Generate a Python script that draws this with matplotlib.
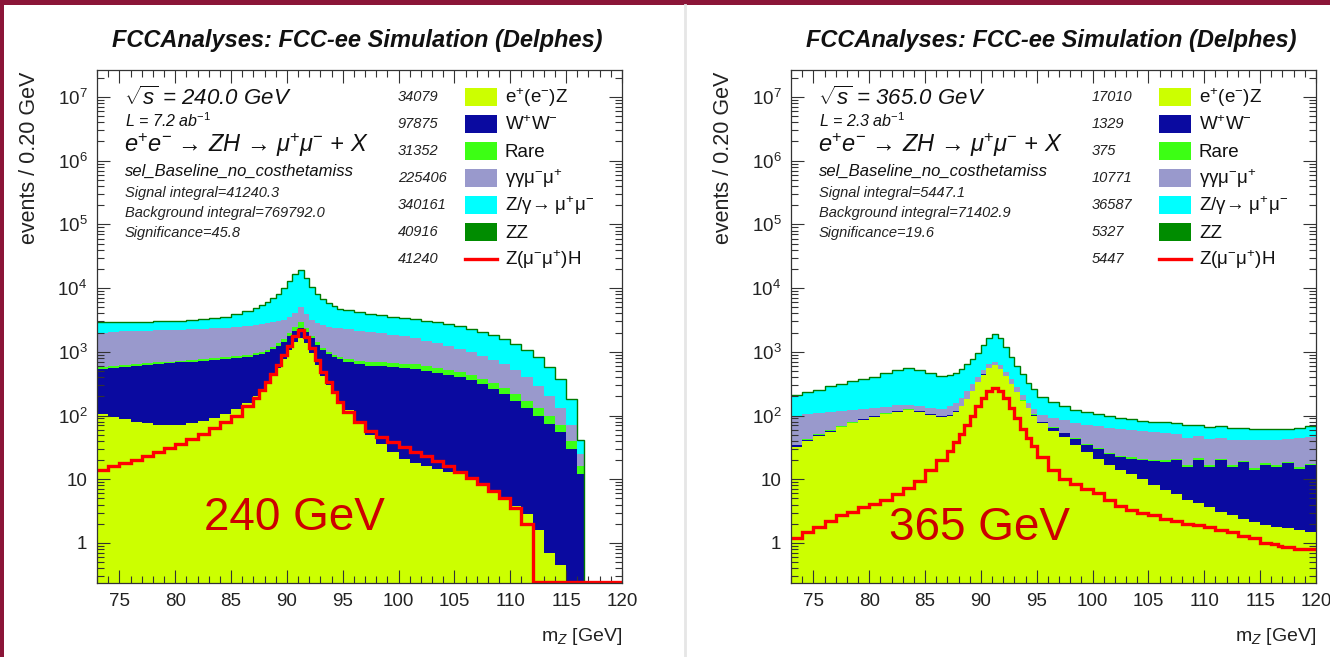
import numpy as np
import matplotlib
matplotlib.use("Agg")
import matplotlib.pyplot as plt
from matplotlib.patches import Rectangle
from matplotlib.lines import Line2D
from matplotlib.ticker import FixedLocator, FixedFormatter, MultipleLocator, LogLocator, NullFormatter

plt.rcParams['font.family'] = ['Liberation Sans', 'DejaVu Sans']
plt.rcParams['mathtext.fontset'] = 'custom'
plt.rcParams['mathtext.rm'] = 'Liberation Sans'
plt.rcParams['mathtext.it'] = 'Liberation Sans:italic'
plt.rcParams['mathtext.bf'] = 'Liberation Sans:bold'

# ---------------- data ----------------
bin_edges = [73, 74, 75, 76, 77, 78, 79, 80, 81, 82, 83, 84, 85, 86, 87,
             87.5, 88, 88.5, 89, 89.5, 90, 90.5, 91, 91.5, 92, 92.5, 93, 93.5, 94, 94.5, 95,
             96, 97, 98, 99, 100, 101, 102, 103, 104, 105, 106, 107, 108, 109, 110, 111, 112,
             113, 114, 115, 116, 116.6, 117, 118, 119, 120]

process_names = ["e$^{+}$(e$^{-}$)Z", "W$^{+}$W$^{-}$", "Rare", "γγμ$^{-}$μ$^{+}$",
                 "Z/γ→ μ$^{+}$μ$^{-}$", "ZZ"]
signal_name = "Z(μ$^{-}$μ$^{+}$)H"
process_colors = ["#ccff00", "#0a0aa0", "#3cff14", "#9999cc", "#00ffff", "#008c00"]
signal_color = "#ff0000"

# 240 GeV (events / 0.20 GeV)
eeZ_240 = [105, 95, 88, 80, 75, 72, 70, 72, 76, 82, 92, 105, 125, 160,
           200, 250, 320, 420, 560, 760, 1050, 1400, 1650, 1350, 950, 620, 420, 300, 220, 165,
           120, 75, 50, 36, 27, 21, 18, 16, 14.5, 13, 12, 10, 8.5, 6.5, 5, 3.8, 2.8, 1.6, 0.7, 0.45, 0,
           0, 0, 0, 0, 0]
ww_240 = [435, 465, 492, 520, 545, 568, 590, 608, 624, 638, 650, 660, 668, 675,
          680, 683, 686, 688, 690, 690, 690, 688, 686, 680, 672, 660, 645, 630, 615, 600,
          580, 565, 558, 555, 545, 526, 510, 482, 454, 426, 387, 349, 300, 253, 210, 166, 127, 98, 74, 54, 30,
          12, 0, 0, 0, 0]
rare_240 = [35, 36, 37, 38, 39, 40, 42, 44, 46, 48, 50, 52, 55, 60,
            65, 70, 78, 90, 110, 140, 200, 320, 650, 350, 180, 120, 95, 80, 70, 65,
            60, 70, 80, 90, 100, 105, 105, 100, 95, 88, 80, 74, 68, 62, 56, 48, 40, 30, 22, 16, 10,
            4, 0, 0, 0, 0]
gg_240 = [1425, 1454, 1483, 1482, 1491, 1500, 1498, 1506, 1514, 1532, 1558, 1583, 1602, 1655,
          1700, 1700, 1710, 1700, 1650, 1620, 1600, 1650, 2000, 1500, 1350, 1400, 1440, 1480, 1490, 1500,
          1490, 1435, 1357, 1265, 1175, 1095, 985, 900, 815, 722, 640, 566, 492, 428, 369, 302, 230, 160, 103, 60, 30,
          9, 0, 0, 0, 0]
zg_240 = [850, 820, 780, 780, 770, 770, 780, 770, 790, 850, 950, 1100, 1350, 1750,
          2150, 2600, 3200, 4000, 5000, 6600, 9000, 12500, 13700, 10200, 6900, 5000, 3900, 3200, 2700, 2350,
          2150, 1950, 1850, 1750, 1650, 1600, 1580, 1500, 1470, 1400, 1330, 1250, 1130, 1050, 910, 780, 650, 510, 360, 230, 110,
          15, 0, 0, 0, 0]
zz_240 = [60, 60, 60, 60, 60, 62, 62, 63, 64, 66, 70, 75, 80, 90,
          100, 110, 125, 145, 170, 210, 270, 350, 400, 320, 230, 170, 140, 120, 105, 95,
          90, 85, 80, 76, 72, 68, 65, 62, 58, 55, 50, 46, 42, 38, 33, 28, 23, 18, 13, 8, 4,
          1, 0, 0, 0, 0]
sig_240 = [14, 16, 18, 20, 23, 27, 31, 36, 43, 52, 64, 80, 100, 140,
           190, 250, 330, 450, 620, 880, 1250, 1800, 2200, 1700, 1150, 750, 480, 330, 230, 165,
           115, 80, 58, 46, 38, 32, 27, 23, 19, 16, 13, 10.5, 8.5, 6.5, 5, 3.5, 2, 0, 0, 0, 0,
           0, 0, 0, 0, 0]
legend_counts_240 = ["34079", "97875", "31352", "225406", "340161", "40916", "41240"]
info_240 = ["$\\sqrt{s}$ = 240.0 GeV", "L = 7.2 ab$^{-1}$",
            "Signal integral=41240.3", "Background integral=769792.0", "Significance=45.8"]

# 365 GeV (events / 0.20 GeV)
eeZ_365 = [32, 40, 48, 56, 65, 75, 85, 95, 105, 115, 122, 115, 102, 95,
           100, 115, 140, 180, 240, 330, 440, 560, 620, 540, 420, 310, 230, 170, 130, 100,
           75, 58, 46, 35, 27, 21, 17, 14, 12, 10, 8, 6.8, 5.8, 4.8, 4.2, 3.6, 3.1, 2.7, 2.4, 2.1, 1.9,
           1.8, 1.8, 1.7, 1.6, 1.5]
ww_365 = [2, 2, 2, 2, 2, 2, 2, 2, 2, 2, 2, 2, 2, 2,
          2, 2, 2, 2, 2, 2, 2, 2, 2, 2, 2, 2, 2, 2, 2, 3,
          4, 6, 7, 8, 8, 9, 8, 8, 9, 10, 11, 12, 14, 11, 16, 12, 17, 13, 16, 12, 15,
          14, 14, 16, 13, 15]
rare_365 = [1, 1, 1, 1, 1, 1, 1, 1, 1, 1, 1, 1, 1, 1,
            1, 1, 1, 1, 1, 1, 1, 1, 1, 1, 1, 1, 1, 1, 1, 1,
            1, 1, 1, 1, 1, 1, 1, 1, 1, 1, 1, 1, 1, 1, 1, 1, 1, 1, 1, 1, 1,
            1, 1, 1, 1, 1]
gg_365 = [65, 62, 59, 55, 50, 44, 39, 34, 30, 26, 23, 24, 27, 30,
          37, 42, 47, 57, 67, 67, 77, 77, 77, 77, 67, 57, 47, 37, 27, 21,
          22, 26, 30, 33, 35, 37, 38, 38, 37, 36, 35, 33, 31, 28, 26, 26, 23, 24, 22, 26, 23,
          24, 24, 24, 29, 29]
zg_365 = [105, 120, 140, 166, 187, 213, 238, 268, 312, 356, 392, 368, 318, 282,
          280, 300, 340, 380, 450, 550, 730, 960, 1150, 980, 660, 450, 300, 220, 160, 125,
          90, 67, 53, 42, 38, 34, 30, 28, 27, 24, 23, 23, 23, 23, 23, 22, 22, 21, 20, 19, 19,
          19, 19, 17, 17, 19]
zz_365 = [5, 5, 6, 6, 7, 8, 8, 9, 10, 11, 12, 12, 11, 10,
          11, 12, 14, 16, 20, 25, 32, 40, 45, 40, 30, 22, 16, 12, 9, 7,
          5, 4, 4, 3, 3, 3, 3, 3, 2, 2, 2, 2, 2, 2, 2, 2, 2, 2, 2, 2, 2,
          2, 2, 2, 2, 2]
sig_365 = [1.2, 1.5, 1.8, 2.2, 2.7, 3.1, 3.6, 4.1, 4.8, 5.8, 7.2, 9.5, 14, 20,
           28, 38, 52, 70, 100, 140, 190, 245, 270, 240, 185, 130, 90, 62, 45, 33,
           22, 14, 10, 8.5, 7, 6, 4.8, 3.8, 3.3, 3, 2.7, 2.4, 2.2, 2.0, 1.9, 1.8, 1.6, 1.5, 1.3, 1.2, 1.0,
           0.95, 0.9, 0.85, 0.8, 0.8]
legend_counts_365 = ["17010", "1329", "375", "10771", "36587", "5327", "5447"]
info_365 = ["$\\sqrt{s}$ = 365.0 GeV", "L = 2.3 ab$^{-1}$",
            "Signal integral=5447.1", "Background integral=71402.9", "Significance=19.6"]

process_line = "e$^{+}$e$^{-}$ → ZH → μ$^{+}$μ$^{-}$ + X"
selection_name = "sel_Baseline_no_costhetamiss"
title_text = "FCCAnalyses: FCC-ee Simulation (Delphes)"
energy_labels = ["240 GeV", "365 GeV"]
y_tick_values = [1, 10, 100, 1e3, 1e4, 1e5, 1e6, 1e7]
y_tick_labels = ["1", "10", "$10^{2}$", "$10^{3}$", "$10^{4}$", "$10^{5}$", "$10^{6}$", "$10^{7}$"]
x_tick_values = [75, 80, 85, 90, 95, 100, 105, 110, 115, 120]

# ---------------- figure ----------------
W, H = 1330, 657
fig = plt.figure(figsize=(W / 100, H / 100), dpi=100)
fig.patch.set_facecolor("white")


def P(x, y):
    return (x / W, 1 - y / H)


# slide decorations
fig.add_artist(Rectangle((0, 1 - 5 / H), 1, 5 / H, transform=fig.transFigure,
                         color="#8b1538", lw=0))
fig.add_artist(Rectangle((0, 0), 4 / W, 1, transform=fig.transFigure,
                         color="#8b1538", lw=0))
fig.add_artist(Line2D([685 / W, 685 / W], [0, 1 - 5 / H], transform=fig.transFigure,
                      color="#e6e6e6", lw=2))

edges = np.array(bin_edges)
ymin, ymax = 0.235, 2.65e7

panels = [
    dict(x0=97, layers=[eeZ_240, ww_240, rare_240, gg_240, zg_240, zz_240], sig=sig_240,
         counts=legend_counts_240, info=info_240, elabel=energy_labels[0], epos=(204, 530)),
    dict(x0=791, layers=[eeZ_365, ww_365, rare_365, gg_365, zg_365, zz_365], sig=sig_365,
         counts=legend_counts_365, info=info_365, elabel=energy_labels[1], epos=(889, 540)),
]

AX_W, AX_TOP, AX_BOT = 525, 70, 583

for p in panels:
    x0 = p["x0"]
    ax = fig.add_axes([x0 / W, 1 - AX_BOT / H, AX_W / W, (AX_BOT - AX_TOP) / H])
    cum = np.cumsum(np.array(p["layers"], dtype=float), axis=0)
    for i in reversed(range(cum.shape[0])):
        ax.stairs(np.maximum(cum[i], 1e-3), edges, baseline=1e-3, fill=True,
                  facecolor=process_colors[i], edgecolor="none", lw=0, zorder=1)
    ax.stairs(cum[-1], edges, baseline=None, color="#007a00", lw=1.0, zorder=1.5)
    ax.stairs(np.maximum(np.array(p["sig"], dtype=float), ymin * 1.04), edges, baseline=None,
              color=signal_color, lw=2.4, zorder=1.6)

    ax.set_yscale("log")
    ax.set_xlim(73, 120)
    ax.set_ylim(ymin, ymax)
    ax.yaxis.set_major_locator(FixedLocator(y_tick_values))
    ax.yaxis.set_major_formatter(FixedFormatter(y_tick_labels))
    ax.yaxis.set_minor_locator(LogLocator(base=10, subs=np.arange(2, 10)))
    ax.yaxis.set_minor_formatter(NullFormatter())
    ax.xaxis.set_major_locator(FixedLocator(x_tick_values))
    ax.xaxis.set_minor_locator(MultipleLocator(1))
    ax.tick_params(which="both", direction="in", top=True, right=True,
                   color="#333333", width=0.8)
    ax.tick_params(which="major", length=9.5, labelsize=13.5, pad=7, labelcolor="#222222")
    ax.tick_params(which="minor", length=5)
    for s in ax.spines.values():
        s.set_color("#333333")
        s.set_linewidth(0.9)
        s.set_zorder(3)

    cx = x0 + AX_W / 2
    fig.text(*P(cx - 2, 47), title_text, ha="center", va="baseline", fontsize=17,
             fontweight="bold", fontstyle="italic", color="#111111")
    fig.text(*P(x0 - 67, 72), "events / 0.20 GeV", rotation=90, ha="center", va="top",
             fontsize=15.5, color="#222222")
    fig.text(*P(x0 + AX_W, 641), "m$_{Z}$ [GeV]", ha="right", va="baseline",
             fontsize=14, color="#222222")

    # info block
    tx = x0 + 27
    fig.text(*P(tx, 105), p["info"][0], ha="left", va="baseline", fontsize=16,
             fontstyle="italic", color="#111111")
    fig.text(*P(tx + 1, 127), p["info"][1], ha="left", va="baseline", fontsize=11.5,
             fontstyle="italic", color="#111111")
    fig.text(*P(tx, 152), process_line, ha="left", va="baseline", fontsize=17,
             fontstyle="italic", color="#111111")
    fig.text(*P(tx + 1, 176), selection_name, ha="left", va="baseline", fontsize=12,
             fontstyle="italic", color="#111111")
    for k, yy in enumerate([197, 217, 237]):
        fig.text(*P(tx + 1, yy), p["info"][2 + k], ha="left", va="baseline", fontsize=10.5,
                 fontstyle="italic", color="#222222")

    # legend
    lx = x0 + 301
    bx0, bx1 = x0 + 368, x0 + 400
    labx = x0 + 408
    rows = [97, 124, 151, 178, 205, 232, 259]
    all_names = process_names + [signal_name]
    for j, yy in enumerate(rows):
        fig.text(*P(lx, yy), p["counts"][j], ha="left", va="center", fontsize=10.5,
                 fontstyle="italic", color="#222222")
        if j < 6:
            fig.add_artist(Rectangle(P(bx0, yy + 9), (bx1 - bx0) / W, 18 / H,
                                     transform=fig.transFigure, facecolor=process_colors[j],
                                     edgecolor="none"))
        else:
            fig.add_artist(Line2D([bx0 / W, bx1 / W], [1 - yy / H, 1 - yy / H],
                                  transform=fig.transFigure, color=signal_color, lw=2.4))
        fig.text(*P(labx, yy + 6), all_names[j], ha="left", va="baseline", fontsize=13.5,
                 color="#111111")

    fig.text(*P(*p["epos"]), p["elabel"], ha="left", va="baseline", fontsize=33,
             color="#cc0000")

fig.savefig("out.png", dpi=100)
